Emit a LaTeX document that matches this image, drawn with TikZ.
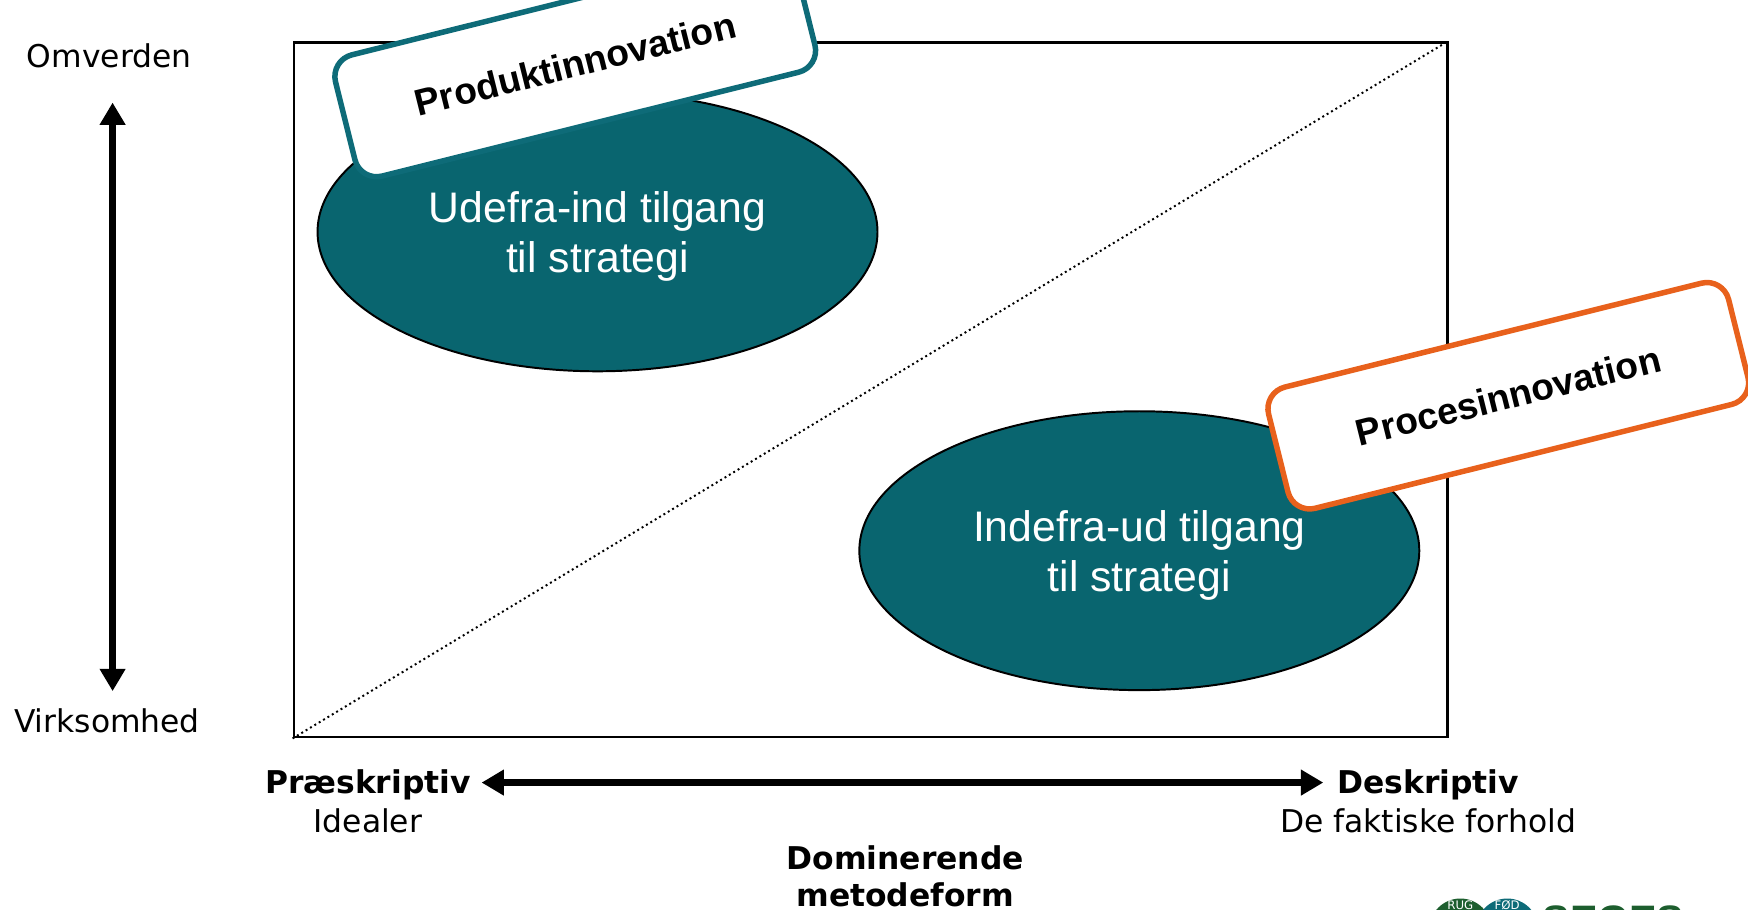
\documentclass[tikz,border=0pt]{standalone}
\usepackage{fontspec}
\setmainfont{DejaVu Sans}
\newfontfamily\arialf{Liberation Sans}
\usetikzlibrary{shapes.geometric,arrows.meta}
\definecolor{tealfill}{HTML}{09656F}
\definecolor{tealline}{HTML}{0E6B78}
\definecolor{orangeline}{HTML}{E8611C}
\definecolor{segesgreen}{HTML}{1D5E2E}
\begin{document}
\begin{tikzpicture}[x=0.01cm,y=-0.01cm,
  blob/.style={ellipse, draw=black, line width=0.5pt, fill=tealfill, minimum width=5.02cm, minimum height=2.5cm, inner sep=0pt, text=white, align=center, font=\arialf\fontsize{10.9}{12.8}\selectfont},
  tagbox/.style={draw, fill=white, rounded corners=0.2cm, line width=1.4pt, minimum width=4.25cm, minimum height=1.12cm, rotate=14, inner sep=0pt, font=\arialf\bfseries\fontsize{9.5}{11}\selectfont},
  lbl/.style={font=\fontsize{8}{10}\selectfont, align=center, inner sep=0pt},
  bigarrow/.style={line width=1.7pt, {Triangle[width=0.22cm,length=0.2cm]}-{Triangle[width=0.22cm,length=0.2cm]}}
]
\useasboundingbox (0,0) rectangle (1568,816);
% frame and diagonal
\node[draw, line width=0.7pt, minimum width=10.34cm, minimum height=6.23cm, inner sep=0pt] (frame) at (781,349.5) {};
\draw[line width=0.5pt, dash pattern=on 0.5pt off 0.8pt] (frame.south west) -- (frame.north east);
% ellipses
\node[blob] (outin) at (536,208) {};
\node[text=white, align=center, font=\arialf\fontsize{10.9}{12.8}\selectfont, inner sep=0pt] (outintxt) at (536,212) {Udefra-ind tilgang\\til strategi};
\node[blob] (inout) at (1022,494) {};
\node[text=white, align=center, font=\arialf\fontsize{10.9}{12.8}\selectfont, inner sep=0pt] (inouttxt) at (1022,498) {Indefra-ud tilgang\\til strategi};
% tags
\node[tagbox, draw=tealline] (prod) at (516,57) {Produktinnovation};
\node[tagbox, draw=orangeline] (proc) at (1353,355) {Procesinnovation};
% vertical axis
\node[lbl] (omv) at (98,50) {Omverden};
\node[lbl] (virk) at (96,647) {Virksomhed};
\coordinate (vtop) at (101,92);
\coordinate (vbot) at (101,620);
\draw[bigarrow] (vtop) -- (vbot);
% horizontal axis
\node[lbl] (pres) at (330,719) {\textbf{Præskriptiv}\\Idealer};
\node[lbl] (desk) at (1281,719) {\textbf{Deskriptiv}\\De faktiske forhold};
\coordinate (hleft) at (432,702);
\coordinate (hright) at (1187,702);
\draw[bigarrow] (hleft) -- (hright);
\node[lbl, font=\bfseries\fontsize{8}{9.4}\selectfont] (dom) at (812,786) {Dominerende\\metodeform};
% logo (cut off at the lower edge, as in the reference)
\fill[segesgreen] (1310,834) circle (28);
\fill[tealline] (1352,834) circle (28);
\node[text=white, font=\fontsize{3}{3}\selectfont, inner sep=0pt] (rug) at (1310,812) {RUG};
\node[text=white, font=\fontsize{3}{3}\selectfont, inner sep=0pt] (fod) at (1352,812) {FØD};
\node[anchor=base west, text=segesgreen, font=\arialf\bfseries\fontsize{10.5}{12}\selectfont, inner sep=0pt] (seges) at (1383,838) {SEGES};
\end{tikzpicture}
\end{document}
